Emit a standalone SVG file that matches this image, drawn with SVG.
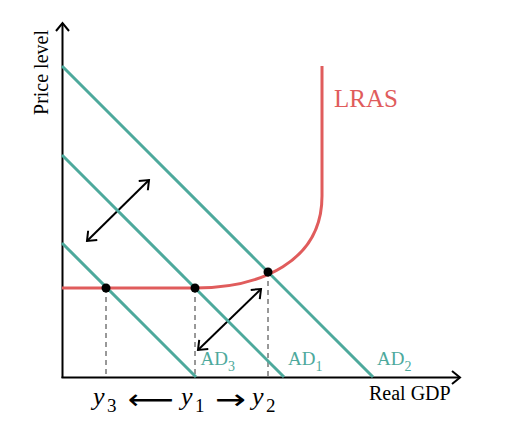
<svg xmlns="http://www.w3.org/2000/svg" width="526" height="434" viewBox="0 0 526 434">
<defs>
<marker id="ah" viewBox="-10 -8 12 16" refX="0" refY="0" markerWidth="12" markerHeight="16" markerUnits="userSpaceOnUse" orient="auto-start-reverse">
<path d="M-8,-6.5 L0,0 L-8,6.5" fill="none" stroke="#000" stroke-width="2" stroke-linejoin="miter"/>
</marker>
<style>
.axis{stroke:#000;stroke-width:2;fill:none}
.ad{stroke:#4da99c;stroke-width:3;fill:none}
.lras{stroke:#e05c5c;stroke-width:3;fill:none}
.dash{stroke:#333;stroke-width:1;stroke-dasharray:5,4;fill:none}
.shift{stroke:#000;stroke-width:2;fill:none}
.dot{fill:#000}
text{font-family:"Liberation Serif","Times New Roman",serif}
.lab{font-size:20px;fill:#000}
.adl{font-size:19px;fill:#4da99c}
.sub{font-size:14px}
.lr{font-size:25px;fill:#e05c5c}
.my{font-size:26px;font-style:italic;fill:#000}
.ms{font-size:19px;fill:#000}
.ar{font-size:28px;fill:#000;font-family:"DejaVu Sans",sans-serif}
</style>
</defs>
<g id="axes">
<path class="axis" d="M62.5,378 L62.5,23" marker-end="url(#ah)"/>
<path class="axis" d="M61.5,377.5 L460,377.5" marker-end="url(#ah)"/>
<text class="lab" transform="translate(48,72.5) rotate(-90)" text-anchor="middle">Price level</text>
<text class="lab" x="369" y="400">Real GDP</text>
</g>
<g id="connectors">
<path class="dash" d="M106,288 L106,377"/>
<path class="dash" d="M195,288 L195,377"/>
<path class="dash" d="M268,272 L268,377"/>
<path class="shift" d="M87,241 L149,180" marker-start="url(#ah)" marker-end="url(#ah)"/>
<path class="shift" d="M198,350 L261,289" marker-start="url(#ah)" marker-end="url(#ah)"/>
</g>
<g id="AD3">
<path class="ad" d="M62,243 L196,377"/>
<text class="adl" x="200.5" y="365">AD<tspan class="sub" dy="6">3</tspan></text>
</g>
<g id="AD1">
<path class="ad" d="M62,155 L284,377"/>
<text class="adl" x="288" y="365">AD<tspan class="sub" dy="6">1</tspan></text>
</g>
<g id="AD2">
<path class="ad" d="M62,66 L373,377"/>
<text class="adl" x="377" y="365">AD<tspan class="sub" dy="6">2</tspan></text>
</g>
<g id="LRAS">
<path class="lras" d="M62,288 L195,288 C260,288 322,262 322,196 L322,66"/>
<text class="lr" x="334" y="107">LRAS</text>
</g>
<g id="points">
<circle class="dot" cx="106" cy="288" r="4.5"/>
<circle class="dot" cx="195" cy="288" r="4.5"/>
<circle class="dot" cx="268" cy="272" r="4.5"/>
</g>
<g id="output-labels">
<text class="my" x="93" y="405">y</text><text class="ms" x="107" y="412">3</text>
<text class="ar" x="128" y="409" textLength="46" lengthAdjust="spacingAndGlyphs">⟵</text>
<text class="my" x="181" y="405">y</text><text class="ms" x="195" y="412">1</text>
<text class="ar" x="215" y="409" textLength="31" lengthAdjust="spacingAndGlyphs">→</text>
<text class="my" x="252" y="405">y</text><text class="ms" x="266" y="412">2</text>
</g>
</svg>
